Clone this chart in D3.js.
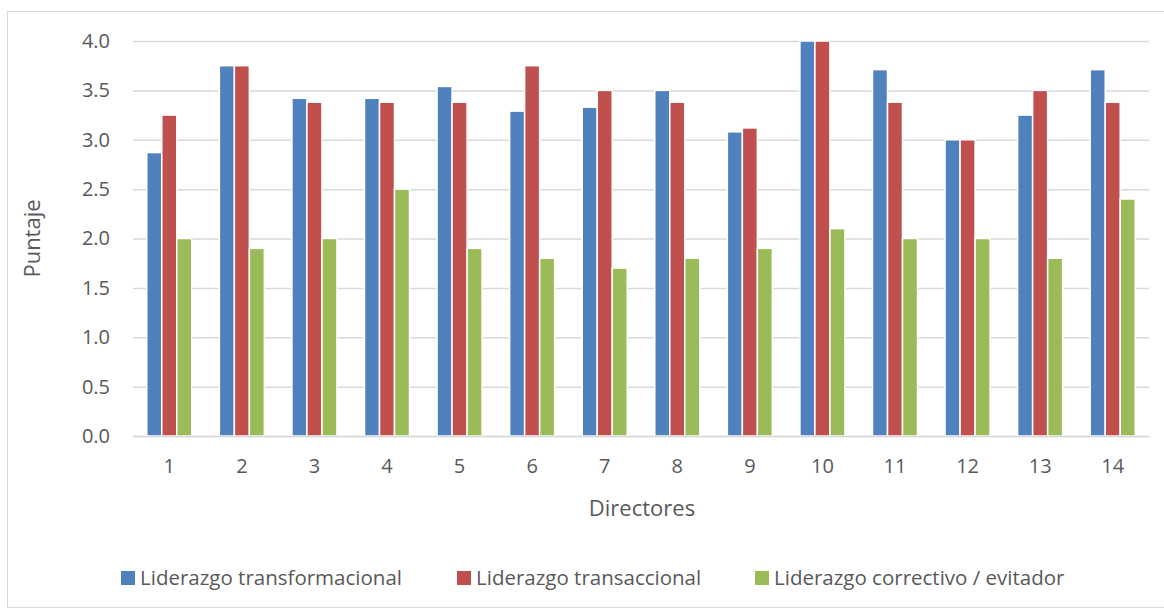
<!DOCTYPE html>
<html>
<head>
<meta charset="utf-8">
<script src="https://cdn.jsdelivr.net/npm/d3@7"></script>
<style>
  body { margin: 0; background: #fff; }
  text { font-family: "Open Sans", "Noto Sans", sans-serif; fill: #595959; }
</style>
</head>
<body>
<div id="chart"></div>
<script>
var w = 1164, h = 610;
var directores = ["1", "2", "3", "4", "5", "6", "7", "8", "9", "10", "11", "12", "13", "14"];
var transformacional = [2.87, 3.75, 3.42, 3.42, 3.54, 3.29, 3.33, 3.5, 3.08, 4.0, 3.71, 3.0, 3.25, 3.71];
var transaccional = [3.25, 3.75, 3.38, 3.38, 3.38, 3.75, 3.5, 3.38, 3.12, 4.0, 3.38, 3.0, 3.5, 3.38];
var correctivo = [2.0, 1.9, 2.0, 2.5, 1.9, 1.8, 1.7, 1.8, 1.9, 2.1, 2.0, 2.0, 1.8, 2.4];
var seriesNames = ["Liderazgo transformacional", "Liderazgo transaccional", "Liderazgo correctivo / evitador"];
var colors = ["#4F81BD", "#C0504D", "#9BBB59"];
var yTicks = [0, 0.5, 1, 1.5, 2, 2.5, 3, 3.5, 4];

var series = [transformacional, transaccional, correctivo];

var margin = {left: 133, right: 1149, top: 41, bottom: 436};

var svg = d3.select("#chart")
    .append("svg")
    .attr("width", w)
    .attr("height", h);

// marco
svg.append("rect")
    .attr("x", 7.5).attr("y", 11.5)
    .attr("width", 1160).attr("height", 596)
    .attr("fill", "none")
    .attr("stroke", "#D9D9D9")
    .attr("stroke-width", 1);

var x = d3.scaleBand()
    .domain(directores)
    .range([margin.left, margin.right])
    .paddingInner(0.38)
    .paddingOuter(0.19);

var xs = d3.scaleBand()
    .domain([0, 1, 2])
    .range([0, x.bandwidth()]);

var y = d3.scaleLinear()
    .domain([0, 4])
    .range([margin.bottom, margin.top]);

// lineas de grilla
var yAxis = d3.axisLeft(y)
    .tickValues(yTicks)
    .tickSize(-(margin.right - margin.left))
    .tickPadding(23)
    .tickFormat(d3.format(".1f"));

var gy = svg.append("g")
    .attr("transform", "translate(" + margin.left + ",0)")
    .call(yAxis);
gy.select(".domain").remove();
gy.selectAll("line").attr("stroke", "#D9D9D9").attr("stroke-width", 1.5);
gy.selectAll("text")
    .attr("font-size", "20px")
    .attr("fill", "#595959")
    .attr("font-family", "'Open Sans', sans-serif");

// barras
series.forEach(function(values, s) {
  svg.append("g")
      .selectAll("rect")
      .data(values)
      .enter()
      .append("rect")
      .attr("x", function(d, i) { return x(directores[i]) + xs(s); })
      .attr("y", function(d) { return y(d); })
      .attr("width", xs.bandwidth())
      .attr("height", function(d) { return y(0) - y(d); })
      .attr("fill", colors[s])
      .attr("stroke", "#fff")
      .attr("stroke-width", 1.5);
});

// eje x
var xAxis = d3.axisBottom(x).tickSize(0).tickPadding(23);
var gx = svg.append("g")
    .attr("transform", "translate(0," + margin.bottom + ")")
    .call(xAxis);
gx.select(".domain").attr("stroke", "#D9D9D9").attr("stroke-width", 1.5);
gx.selectAll("text")
    .attr("font-size", "20px")
    .attr("fill", "#595959")
    .attr("font-family", "'Open Sans', sans-serif");

// titulos de ejes
svg.append("text")
    .attr("x", (margin.left + margin.right) / 2 + 1)
    .attr("y", 516)
    .attr("text-anchor", "middle")
    .attr("font-size", "22px")
    .text("Directores");

svg.append("text")
    .attr("transform", "translate(40," + ((margin.top + margin.bottom) / 2) + ") rotate(-90)")
    .attr("text-anchor", "middle")
    .attr("font-size", "22px")
    .text("Puntaje");

// leyenda
var legendX = [121, 457, 755];
var legend = svg.selectAll(".legend")
    .data(seriesNames)
    .enter()
    .append("g")
    .attr("class", "legend")
    .attr("transform", function(d, i) { return "translate(" + legendX[i] + ",571)"; });
legend.append("rect")
    .attr("width", 14).attr("height", 14)
    .attr("fill", function(d, i) { return colors[i]; });
legend.append("text")
    .attr("x", 19)
    .attr("y", 14)
    .attr("font-size", "20.5px")
    .text(function(d) { return d; });
</script>
</body>
</html>
